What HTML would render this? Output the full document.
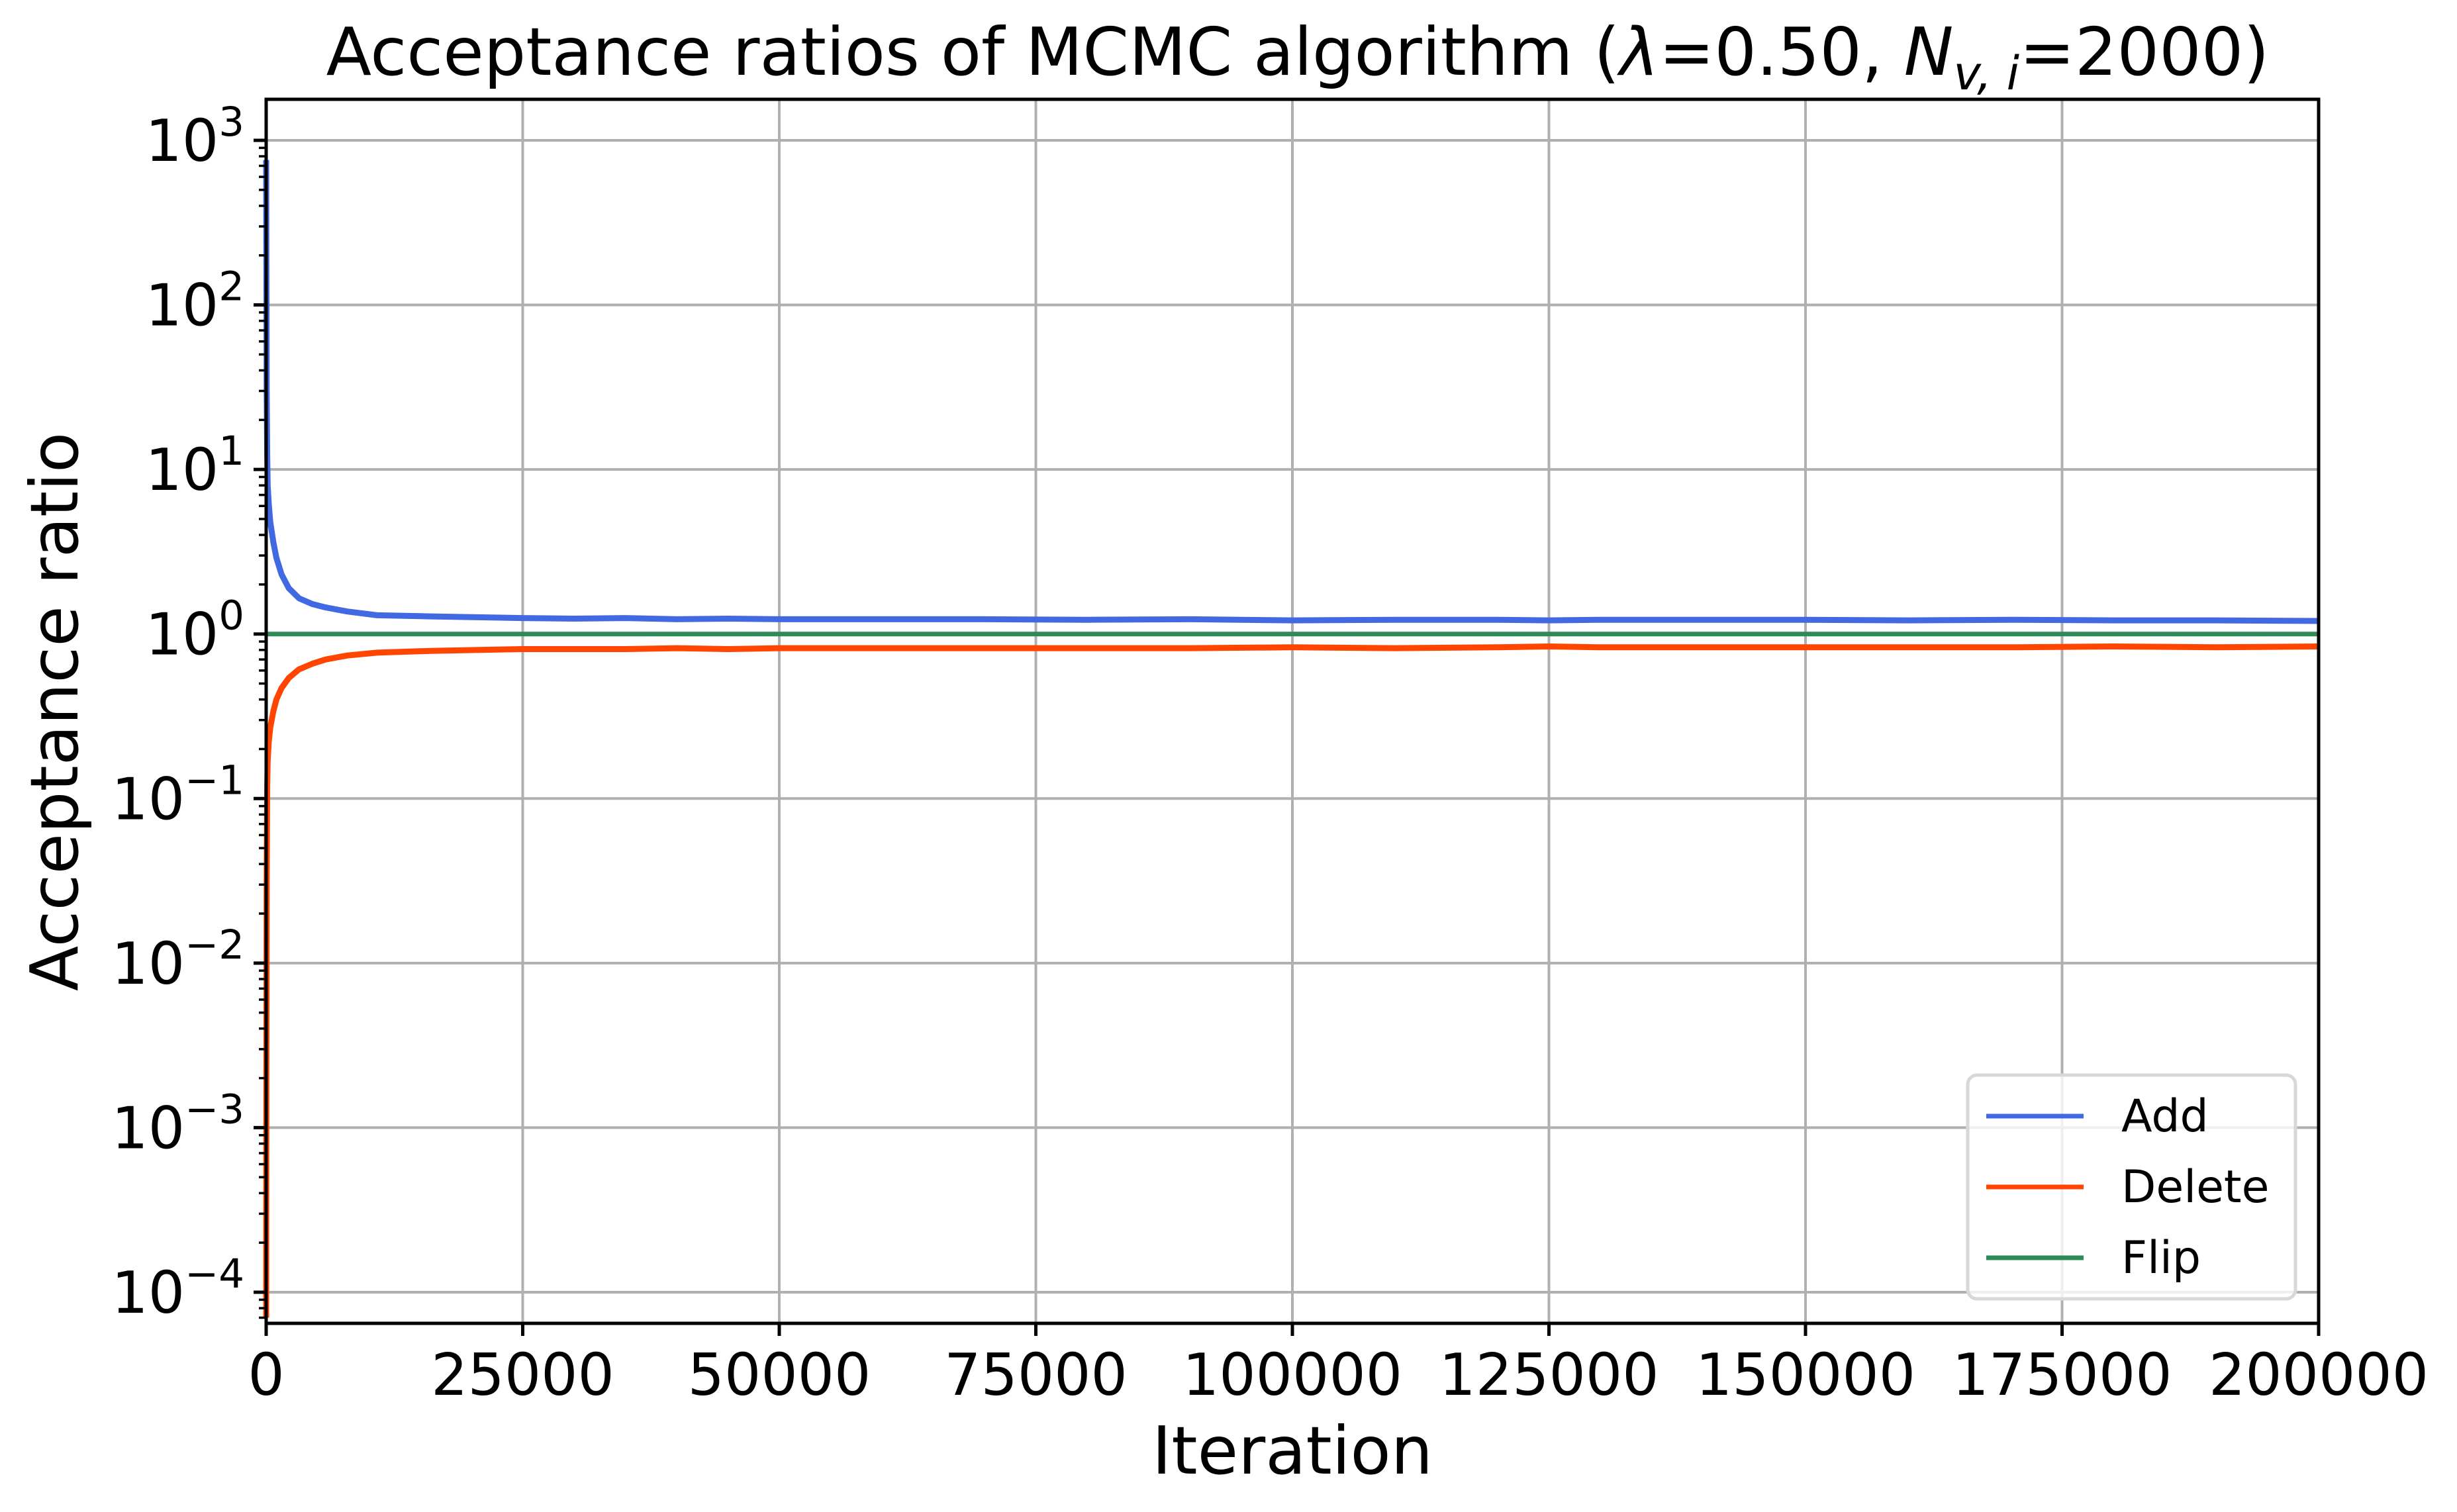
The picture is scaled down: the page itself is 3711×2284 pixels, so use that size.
<!DOCTYPE html>
<html><head><meta charset="utf-8"><style>
html,body{margin:0;padding:0;background:#fff;}
svg{display:block;font-family:"DejaVu Sans","Liberation Sans",sans-serif;}
</style></head><body>
<svg id="chart" width="3711" height="2284" viewBox="0 0 3711 2284" xmlns="http://www.w3.org/2000/svg">
<rect width="3711" height="2284" fill="#fff"/>
<g id="grid"></g>
<g id="series"></g>
<rect x="402" y="150" width="3100" height="1849" fill="none" stroke="#000" stroke-width="5"/>
<g id="ticks"></g>
<text x="1960" y="113" font-size="100" text-anchor="middle">Acceptance ratios of MCMC algorithm (<tspan font-style="italic">λ</tspan>=0.50, <tspan font-style="italic">N</tspan><tspan font-size="70" dy="22" font-style="italic">v, i</tspan><tspan dy="-22">=2000)</tspan></text>
<text x="1952" y="2226" font-size="100" text-anchor="middle">Iteration</text>
<text x="0" y="0" font-size="100" text-anchor="middle" transform="translate(117,1075) rotate(-90)">Acceptance ratio</text>
<g>
<rect x="2972" y="1624" width="495" height="338" rx="14" fill="#fff" fill-opacity="0.8" stroke="#d8d8d8" stroke-width="5"/>
<line x1="3000" y1="1686" x2="3147" y2="1686" stroke="#4169e1" stroke-width="7"/>
<text x="3204" y="1709" font-size="68">Add</text>
<line x1="3000" y1="1793" x2="3147" y2="1793" stroke="#ff4500" stroke-width="7"/>
<text x="3204" y="1816" font-size="68">Delete</text>
<line x1="3000" y1="1900" x2="3147" y2="1900" stroke="#2e8b57" stroke-width="7"/>
<text x="3204" y="1923" font-size="68">Flip</text>
</g>
</svg>
<script>
const iterations = [0,20,50,100,150,250,400,700,1000,1500,2200,3200,4500,5800,7900,10800,16000,25000,30000,35000,40000,45000,50000,60000,70000,80000,90000,100000,110000,120000,125000,130000,140000,150000,160000,170000,180000,190000,200000];
const addValues = [760,200,30,12,8,6.2,4.8,3.6,2.9,2.3,1.9,1.65,1.52,1.45,1.37,1.3,1.28,1.25,1.24,1.25,1.23,1.24,1.23,1.23,1.23,1.22,1.23,1.21,1.22,1.22,1.21,1.22,1.22,1.22,1.21,1.22,1.21,1.21,1.2];
const deleteValues = [0.00007,0.002,0.03,0.12,0.17,0.22,0.27,0.34,0.4,0.47,0.54,0.61,0.66,0.7,0.74,0.77,0.79,0.81,0.81,0.81,0.82,0.81,0.82,0.82,0.82,0.82,0.82,0.83,0.82,0.83,0.84,0.83,0.83,0.83,0.83,0.83,0.84,0.83,0.84];
const flipValues = [1,1];
const flipIters = [0,200000];
const xTicks = [0,25000,50000,75000,100000,125000,150000,175000,200000];
const yExps = [-4,-3,-2,-1,0,1,2,3];

const L=402,R=3502,T=150,B=1999;
const Y3=212, DEC=248.57;
const xS=v=>L+(v-0)/(200000)*(R-L);
const yS=v=>Y3+(3-Math.log10(v))*DEC;
const NS="http://www.w3.org/2000/svg";
function mk(tag,attrs,parent){const e=document.createElementNS(NS,tag);for(const k in attrs)e.setAttribute(k,attrs[k]);parent.appendChild(e);return e;}
const grid=document.getElementById('grid'),ticks=document.getElementById('ticks'),series=document.getElementById('series');
xTicks.forEach(v=>{
  const x=xS(v);
  const g=mk('line',{x1:x,y1:T,x2:x,y2:B,stroke:'#b0b0b0','stroke-width':4},grid);
  
  
  const t=mk('line',{x1:x,y1:B,x2:x,y2:B+19,stroke:'#000','stroke-width':5},ticks);
  
  
  const lb=mk('text',{x:x,y:2107,'font-size':87,'text-anchor':'middle'},ticks);
  lb.textContent=String(v);
  
  
});
yExps.forEach(e=>{
  const y=yS(Math.pow(10,e));
  const g=mk('line',{x1:L,y1:y,x2:R,y2:y,stroke:'#b0b0b0','stroke-width':4},grid);
  
  
  const t=mk('line',{x1:L-19,y1:y,x2:L,y2:y,stroke:'#000','stroke-width':5},ticks);
  
  
  const lb=mk('text',{x:369,y:y+31,'font-size':87,'text-anchor':'end'},ticks);
  
  
  const a=document.createElementNS(NS,'tspan');a.textContent='10';lb.appendChild(a);
  const b=document.createElementNS(NS,'tspan');b.setAttribute('font-size','61');b.setAttribute('dy','-38');b.textContent=(e<0?'\u2212':'')+Math.abs(e);lb.appendChild(b);
});
for(let e=-5;e<4;e++){for(let m=2;m<10;m++){const v=m*Math.pow(10,e);const y=yS(v);if(y<T||y>B)continue;
  const t=mk('line',{x1:L-11,y1:y,x2:L,y2:y,stroke:'#000','stroke-width':3.5},ticks);
  
  }}
function path(xs,ys,color,name,w){
  const d=xs.map((v,i)=>(i?'L':'M')+xS(v).toFixed(1)+' '+yS(ys[i]).toFixed(1)).join(' ');
  const p=mk('path',{d:d,fill:'none',stroke:color,'stroke-width':w,'stroke-linejoin':'round'},series);
  
  
}
path(flipIters,flipValues,'#2e8b57','flip-line',7);
path(iterations,addValues,'#4169e1','add-line',9);
path(iterations,deleteValues,'#ff4500','delete-line',9);
</script>
</body></html>
